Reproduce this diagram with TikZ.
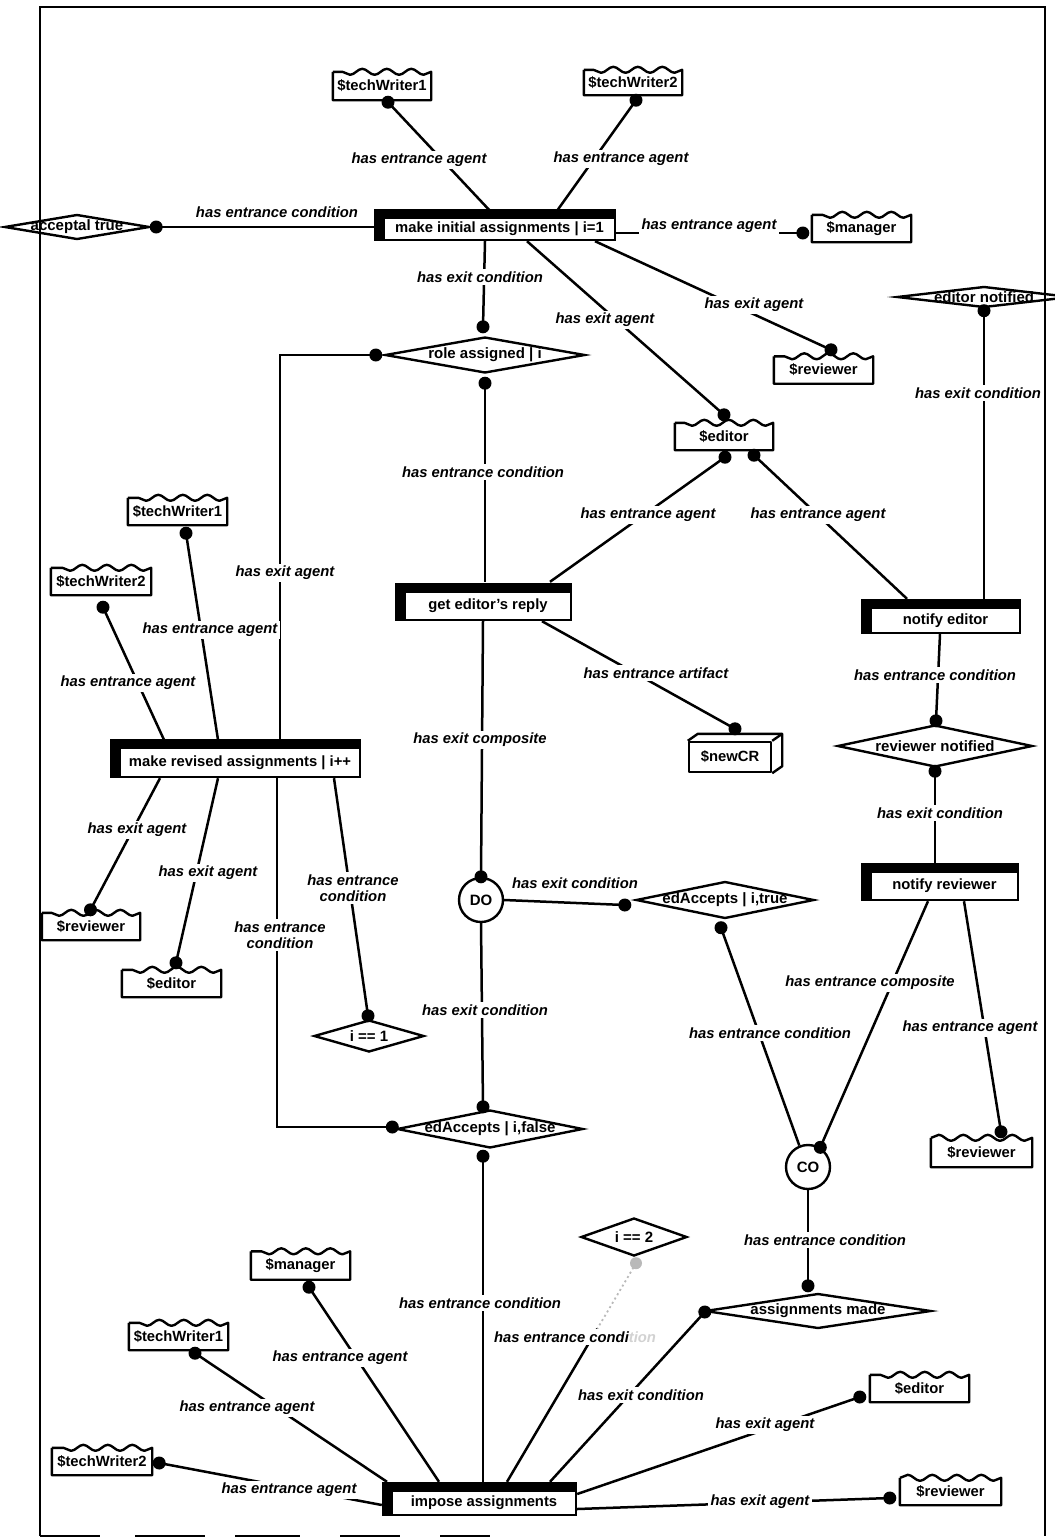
\documentclass[tikz,border=0pt]{standalone}
\usepackage{fontspec}
\setmainfont{Liberation Sans}
\usetikzlibrary{calc,shapes.geometric,decorations.pathmorphing,backgrounds}
\newcommand\dtext[1]{\makebox[0pt][c]{#1}}
\newcommand\wavyoutline[1]{%
  \draw[shapeline] (#1.north west) -- (#1.south west) -- (#1.south east) -- (#1.north east)
    decorate[decoration={snake,segment length=24.5pt,amplitude=3pt}]{-- (#1.north west)};}
\newcommand\procbars[1]{%
  \fill ($(#1.north west)+(-9,-8)$) rectangle (#1.north east);
  \fill ($(#1.north west)+(-9,-8)$) rectangle (#1.south west);}
\tikzset{
  shapeline/.style={line width=2.4pt, line join=round},
  conn/.style={line width=2.5pt},
  faint/.style={draw=gray!55, line width=1.8pt, dash pattern=on 2pt off 3pt},
  lab/.style={font=\fontsize{14.8}{15.5}\selectfont\bfseries\itshape, fill=white, inner sep=2.5pt, align=center},
  proc/.style 2 args={draw, fill=white, line width=2.4pt, inner sep=0pt, minimum width=#1pt, minimum height=#2pt, font=\fontsize{14.8}{16}\selectfont\bfseries},
  agent/.style 2 args={inner sep=0pt, minimum width=#1pt, minimum height=#2pt, font=\fontsize{14.8}{15}\selectfont\bfseries},
  cond/.style 2 args={diamond, draw, fill=white, line width=2.4pt, inner sep=0pt, minimum width=#1pt, minimum height=#2pt, font=\fontsize{15}{15}\selectfont\bfseries},
  comp/.style={circle, draw, fill=white, line width=2.4pt, minimum size=44pt, inner sep=0pt, font=\fontsize{15}{16}\selectfont\bfseries},
  frameline/.style={line width=2.8pt},
}
\begin{document}
\begin{tikzpicture}[x=1pt,y=-1pt]
\useasboundingbox (0,0) rectangle (1055,1540);
% process nodes
\node[proc={231}{22}] (mia) at (499.5,229) {make initial assignments | i=1};
\node[proc={166}{28}] (ger) at (488,606) {get editor's reply};
\node[proc={149}{25}] (ne) at (945.5,620.5) {notify editor};
\node[proc={147}{28}] (nr) at (944.5,886) {notify reviewer};
\node[proc={240}{29}] (mra) at (240,762.5) {make revised assignments | i++};
\node[proc={184}{24}] (ia) at (484,1503) {impose assignments};
\foreach \n in {mia,ger,ne,nr,mra,ia} {\procbars{\n}}
% agents
\node[agent={98}{28}] (tw1a) at (382,86) {\$techWriter1};
\node[agent={98}{25}] (tw2a) at (633,82.5) {\$techWriter2};
\node[agent={99}{27}] (mgra) at (861.5,228.5) {\$manager};
\node[agent={99}{27}] (rva) at (823.5,370) {\$reviewer};
\node[agent={98}{27}] (eda) at (724,436.5) {\$editor};
\node[agent={99}{27}] (tw1b) at (177.5,511.5) {\$techWriter1};
\node[agent={100}{27}] (tw2b) at (101,581.5) {\$techWriter2};
\node[agent={98}{27}] (rvb) at (91,926.5) {\$reviewer};
\node[agent={99}{27}] (edb) at (171.5,983.5) {\$editor};
\node[agent={101}{29}] (rvc) at (981.5,1152.5) {\$reviewer};
\node[agent={99}{28}] (mgrb) at (300.5,1265.5) {\$manager};
\node[agent={99}{27}] (tw1c) at (178.5,1336.5) {\$techWriter1};
\node[agent={100}{27}] (tw2c) at (102,1461.5) {\$techWriter2};
\node[agent={99}{27}] (edc) at (919.5,1388.5) {\$editor};
\node[agent={101}{27}] (rvd) at (950.5,1491.5) {\$reviewer};
\foreach \n in {tw1a,tw2a,mgra,rva,eda,tw1b,tw2b,rvb,edb,rvc,mgrb,tw1c,tw2c,edc,rvd} {\wavyoutline{\n}}
% artifact
\node[draw, shapeline, fill=white, minimum width=82pt, minimum height=30pt, inner sep=0pt, font=\fontsize{14.8}{15}\selectfont\bfseries] (newcr) at (730,757) {\$newCR};
\draw[shapeline] (newcr.north west) -- ++(10,-7) -- ($(newcr.north east)+(10,-7)$) -- ($(newcr.south east)+(10,-7)$) -- (newcr.south east);
\draw[shapeline] (newcr.north east) -- ++(10,-7);
% conditions
\node[cond={145}{25}] (acc) at (77,227) {\dtext{acceptal true}};
\node[cond={174}{21}] (en) at (984,297) {\dtext{editor notified}};
\node[cond={200}{36}] (ra) at (485,355) {\dtext{role assigned | i}};
\node[cond={195}{42}] (rn) at (935,746) {\dtext{reviewer notified}};
\node[cond={178}{37}] (eat) at (725,900) {\dtext{edAccepts | i,true}};
\node[cond={186}{38}] (eaf) at (490,1129) {\dtext{edAccepts | i,false}};
\node[cond={110}{32}] (i1) at (369,1036) {\dtext{i == 1}};
\node[cond={106}{38}] (i2) at (634,1237) {\dtext{i == 2}};
\node[cond={226}{35}] (am) at (818,1311) {\dtext{assignments made}};
% composites
\node[comp] (do) at (481,900) {DO};
\node[comp] (co) at (808,1167) {CO};
% dot positions
\coordinate (d1) at ($(tw1a.south)+(6,2)$);
\coordinate (d2) at ($(tw2a.south)+(3,5)$);
\coordinate (d3) at ($(acc.east)+(5.5,0)$);
\coordinate (d4) at ($(mgra.west)+(-9,4.5)$);
\coordinate (d5) at ($(ra.north)+(-2,-9)$);
\coordinate (d6) at ($(eda.north)+(0,-8)$);
\coordinate (d7) at ($(rva.north)+(7.5,-6.5)$);
\coordinate (d8) at ($(ra.south)+(0,9)$);
\coordinate (d9) at ($(ra.west)+(-8,0)$);
\coordinate (d10a) at ($(eda.south)+(1,7)$);
\coordinate (d10b) at ($(eda.south)+(30,5)$);
\coordinate (d11) at ($(en.south)+(0,2)$);
\coordinate (d12) at ($(rn.north)+(1,-3)$);
\coordinate (d13) at ($(rn.south)+(0,3)$);
\coordinate (d14) at (co.58);
\coordinate (d15) at ($(rvc.north)+(19.5,-6)$);
\coordinate (d16) at ($(newcr.north)+(5,-12)$);
\coordinate (d17) at (do.north);
\coordinate (d18) at ($(eat.west)+(-10,5)$);
\coordinate (d19) at ($(eaf.north)+(-7,-2)$);
\coordinate (d20) at ($(i1.north)+(-1,-3)$);
\coordinate (d21) at ($(eaf.south)+(-7,7)$);
\coordinate (d22) at ($(am.north)+(-10,-6.5)$);
\coordinate (d23) at ($(am.west)+(1,1)$);
\coordinate (d24) at ($(i2.south)+(2,6)$);
\coordinate (d25) at ($(mgrb.south)+(8.5,7.5)$);
\coordinate (d26) at ($(tw1c.south)+(16.5,3)$);
\coordinate (d27) at ($(tw2c.east)+(7,1.5)$);
\coordinate (d28) at ($(edc.west)+(-10,8.5)$);
\coordinate (d29) at ($(rvd.west)+(-10,6.5)$);
\coordinate (d30) at ($(tw1b.south)+(8.5,8)$);
\coordinate (d31) at ($(tw2b.south)+(2,12)$);
\coordinate (d32) at ($(rvb.north)+(-0.5,-3)$);
\coordinate (d33) at ($(edb.north)+(4.5,-7)$);
\coordinate (d34) at ($(eat.south)+(-4,8)$);
\coordinate (d35) at ($(eaf.west)+(-3.5,-2)$);
\coordinate (e33) at ($(ia.north)+(23,-8)$);
\coordinate (m33) at ($(d24)!0.3!(e33)$);
% connectors
\begin{scope}[on background layer={conn}]
\draw (d1) -- ($(mia.north)+(-9.5,-6)$);
\draw (d2) -- ($(mia.north)+(57.5,-6)$);
\draw (d3) -- ($(mia.west)+(-9,-2)$);
\draw ($(mia.east)+(0,4)$) -- (d4);
\draw ($(mia.south)+(-14.5,0)$) -- (d5);
\draw ($(mia.south)+(27.5,0)$) -- (d6);
\draw ($(mia.south)+(95.5,0)$) -- (d7);
\draw (d8) -- ($(ger.north)+(-3,-9)$);
\draw (d9) -| ($(mra.north)+(40,-7)$);
\draw (d10a) -- ($(ger.north)+(62,-9)$);
\draw (d10b) -- ($(ne.north)+(-38.5,-8)$);
\draw ($(ne.north)+(38.5,-8)$) -- (d11);
\draw ($(ne.south)+(-5.5,0)$) -- (d12);
\draw (d13) -- ($(nr.north)+(-9.5,-7)$);
\draw ($(nr.south)+(-16.5,0)$) -- (d14);
\draw ($(nr.south)+(19.5,0)$) -- (d15);
\draw ($(ger.south)+(54,0)$) -- (d16);
\draw ($(ger.south)+(-5,0)$) -- (d17);
\draw (do.east) -- (d18);
\draw (do.south) -- (d19);
\draw (d34) -- (co.112);
\draw (co.south) -- (d22);
\draw (d30) -- ($(mra.north)+(-22,-7)$);
\draw (d31) -- ($(mra.north)+(-76,-7)$);
\draw ($(mra.south)+(-80,0)$) -- (d32);
\draw ($(mra.south)+(-22,0)$) -- (d33);
\draw ($(mra.south)+(37,0)$) |- (d35);
\draw ($(mra.south)+(94,0)$) -- (d20);
\draw (d21) -- ($(ia.north)+(-1,-8)$);
\draw (d25) -- ($(ia.north)+(-45,-8)$);
\draw (d26) -- ($(ia.north)+(-97,-8)$);
\draw (d27) -- ($(ia.west)+(-9,2)$);
\draw[faint] (d24) -- (m33);
\draw (m33) -- (e33);
\draw ($(ia.north)+(66,-8)$) -- (d23);
\draw ($(ia.east)+(0,-9)$) -- (d28);
\draw ($(ia.east)+(0,6)$) -- (d29);
\end{scope}
% dots
\foreach \d in {d1,d2,d3,d4,d5,d6,d7,d8,d9,d10a,d10b,d11,d12,d13,d14,d15,d16,d17,d18,d19,d20,d21,d22,d23,d25,d26,d27,d28,d29,d30,d31,d32,d33,d34,d35} {\fill (\d) circle (6.5pt);}
\fill[gray!55] (d24) circle (6pt);
% labels
\node[lab] (l1) at (419,160) {has entrance agent};
\node[lab] (l2) at (621,159) {has entrance agent};
\node[lab] (l3) at (277,212) {has entrance condition};
\node[lab] (l4) at (709,226) {has entrance agent};
\node[lab] (l5) at (480,277) {has exit condition};
\node[lab] (l6) at (605,320) {has exit agent};
\node[lab] (l7) at (754,305) {has exit agent};
\node[lab] (l8) at (483,472) {has entrance condition};
\node[lab] (l9) at (285,573) {has exit agent};
\node[lab] (l10) at (648,515) {has entrance agent};
\node[lab] (l11) at (818,515) {has entrance agent};
\node[lab] (l12) at (978,393) {has exit condition};
\node[lab] (l13) at (935,675) {has entrance condition};
\node[lab] (l14) at (940,813) {has exit condition};
\node[lab] (l15) at (870,983) {has entrance composite};
\node[lab] (l16) at (970,1028) {has entrance agent};
\node[lab] (l17) at (656,673) {has entrance artifact};
\node[lab] (l18) at (480,740) {has exit composite};
\node[lab] (l19) at (575,883) {has exit condition};
\node[lab] (l20) at (485,1010) {has exit condition};
\node[lab] (l21) at (770,1033) {has entrance condition};
\node[lab] (l22) at (825,1240) {has entrance condition};
\node[lab] (l23) at (210,630) {has entrance agent};
\node[lab] (l24) at (128,683) {has entrance agent};
\node[lab] (l25) at (137,830) {has exit agent};
\node[lab] (l26) at (208,873) {has exit agent};
\node[lab] (l27) at (280,935) {has entrance\\condition};
\node[lab] (l28) at (353,888) {has entrance\\condition};
\node[lab] (l29) at (480,1303) {has entrance condition};
\node[lab] (l30) at (340,1358) {has entrance agent};
\node[lab] (l31) at (247,1408) {has entrance agent};
\node[lab] (l32) at (289,1490) {has entrance agent};
\node[lab] (l33) at (575,1337) {has entrance condi\textcolor{gray!35}{tion}};
\node[lab] (l34) at (641,1395) {has exit condition};
\node[lab] (l35) at (765,1425) {has exit agent};
\node[lab] (l36) at (760,1502) {has exit agent};
% frame
\draw[frameline] (40,1536) -- (40,7) -- (1045,7) -- (1045,1536);
\foreach \a/\b in {40/100,135/205,235/300,340/400,440/490} {\draw[frameline] (\a,1536) -- (\b,1536);}
\end{tikzpicture}
\end{document}
